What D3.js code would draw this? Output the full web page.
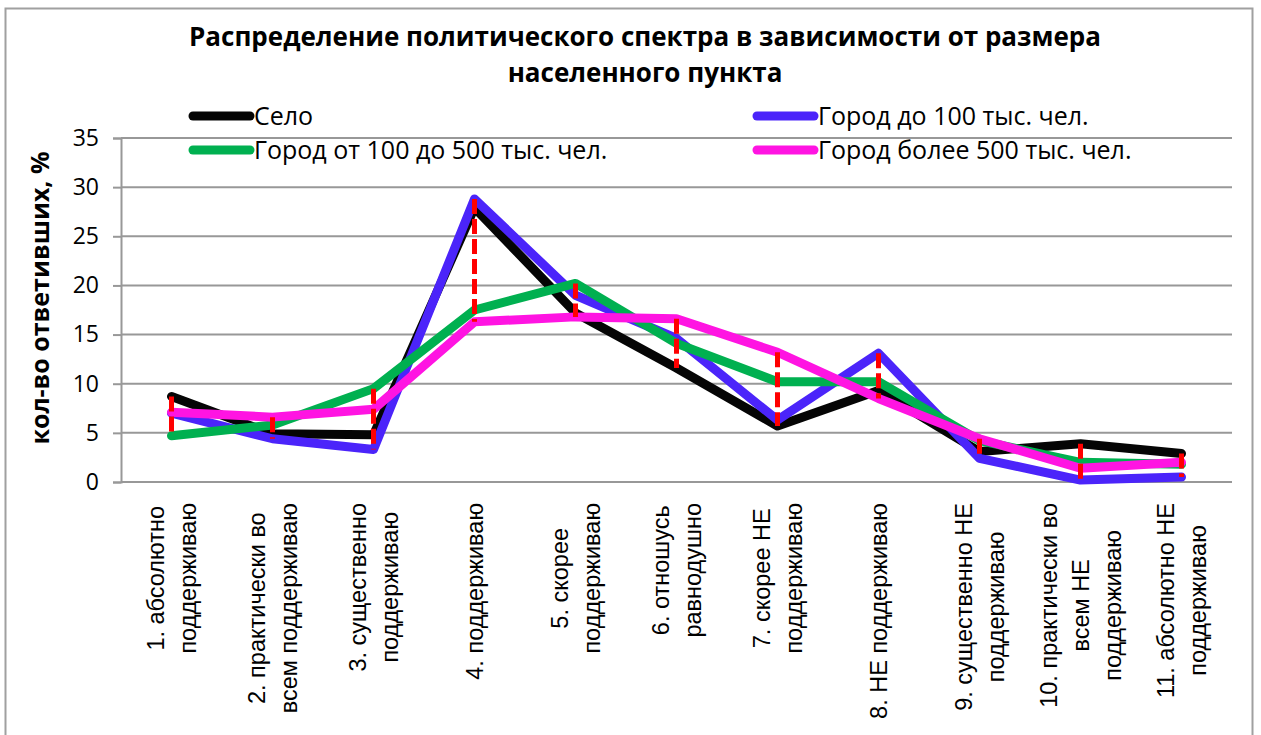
<!DOCTYPE html>
<html>
<head>
<meta charset="utf-8">
<script src="https://cdn.jsdelivr.net/npm/d3@7"></script>
<style>
  body { margin: 0; background: #fff; }
  svg { display: block; }
</style>
</head>
<body>
<div id="chart"></div>
<script>
// данные
var catLabels = [
    ["1. абсолютно", "поддерживаю"],
    ["2. практически во", "всем поддерживаю"],
    ["3. существенно", "поддерживаю"],
    ["4. поддерживаю"],
    ["5. скорее", "поддерживаю"],
    ["6. отношусь", "равнодушно"],
    ["7. скорее НЕ", "поддерживаю"],
    ["8. НЕ поддерживаю"],
    ["9. существенно НЕ", "поддерживаю"],
    ["10. практически во", "всем НЕ", "поддерживаю"],
    ["11. абсолютно НЕ", "поддерживаю"]
];
var seriesNames = ["Село", "Город до 100 тыс. чел.", "Город от 100 до 500 тыс. чел.", "Город более 500 тыс. чел."];
var selo      = [8.7, 4.9, 4.8, 27.9, 17.2, 11.6, 5.7, 9.3, 3.1, 3.9, 2.9];
var gorod100  = [7.0, 4.4, 3.3, 28.8, 19.0, 14.6, 6.3, 13.1, 2.4, 0.2, 0.5];
var gorod500  = [4.7, 5.8, 9.5, 17.5, 20.2, 14.1, 10.2, 10.2, 4.2, 2.0, 1.8];
var gorodMore = [7.1, 6.6, 7.4, 16.3, 16.8, 16.6, 13.2, 8.5, 4.4, 1.4, 2.0];
var yTicks = [0, 5, 10, 15, 20, 25, 30, 35];

var colors = ["#050505", "#4b24fa", "#00b050", "#ff14e2"];
var allSeries = [selo, gorod100, gorod500, gorodMore];

var width = 1261, height = 735;
var plot = {left: 121, right: 1232, top: 138, bottom: 482};

var svg = d3.select("#chart").append("svg")
    .attr("width", width)
    .attr("height", height);

// рамка
svg.append("rect")
    .attr("x", 5.5).attr("y", 8.5)
    .attr("width", 1247).attr("height", 760)
    .attr("fill", "none")
    .attr("stroke", "#a0a0a0")
    .attr("stroke-width", 2);

var idx = d3.range(catLabels.length);
var x = d3.scaleBand().domain(idx).range([plot.left, plot.right]);
var y = d3.scaleLinear().domain([0, 35]).range([plot.bottom, plot.top]);
var cx = function(i) { return x(i) + x.bandwidth() / 2; };

// сетка
svg.append("g")
    .selectAll("line")
    .data(yTicks)
    .enter()
    .append("line")
    .attr("x1", plot.left).attr("x2", plot.right)
    .attr("y1", d => y(d)).attr("y2", d => y(d))
    .attr("stroke", "#989898")
    .attr("stroke-width", 2);

// ось Y
var yAxis = svg.append("g")
    .attr("transform", "translate(" + plot.left + ",0)")
    .call(d3.axisLeft(y).tickValues(yTicks).tickSize(8).tickPadding(14));
yAxis.select(".domain").attr("stroke", "#989898").attr("stroke-width", 2);
yAxis.selectAll(".tick line").attr("stroke", "#989898").attr("stroke-width", 2);
yAxis.selectAll("text")
    .attr("font-family", "Open Sans")
    .attr("font-size", 23)
    .attr("fill", "#000");

svg.append("text")
    .attr("transform", "translate(49," + ((plot.top + plot.bottom) / 2 - 12) + ") rotate(-90)")
    .attr("text-anchor", "middle")
    .attr("font-family", "Open Sans")
    .attr("font-weight", "bold")
    .attr("font-size", 25)
    .text("кол-во ответивших, %");

// подписи категорий
var labelTop = 503;
var lineGap = 32;
idx.forEach(function(i) {
    var lines = catLabels[i];
    var g = svg.append("g");
    var texts = g.selectAll("text")
        .data(lines)
        .enter()
        .append("text")
        .attr("font-family", "Liberation Sans")
        .attr("font-size", 23.5)
        .attr("text-anchor", "middle")
        .text(d => d);
    var maxLen = 0;
    texts.each(function() { maxLen = Math.max(maxLen, this.getComputedTextLength()); });
    var cyBlock = labelTop + maxLen / 2;
    var n = lines.length;
    texts.attr("transform", function(d, k) {
        var lx = cx(i) + (k - (n - 1) / 2) * lineGap + 8;
        return "translate(" + lx + "," + cyBlock + ") rotate(-90)";
    });
});

// линии
var line = d3.line()
    .x((d, i) => cx(i))
    .y(d => y(d));

allSeries.forEach(function(s, k) {
    svg.append("path")
        .datum(s)
        .attr("d", line)
        .attr("fill", "none")
        .attr("stroke", colors[k])
        .attr("stroke-width", 9)
        .attr("stroke-linejoin", "round")
        .attr("stroke-linecap", "round");
});

// линии максимум-минимум
svg.append("g")
    .selectAll("line")
    .data(idx)
    .enter()
    .append("line")
    .attr("x1", i => cx(i)).attr("x2", i => cx(i))
    .attr("y1", i => y(d3.max(allSeries, s => s[i])))
    .attr("y2", i => y(d3.min(allSeries, s => s[i])))
    .attr("stroke", "#ff0000")
    .attr("stroke-width", 5)
    .attr("stroke-dasharray", "15,5");

// заголовок
var title = svg.append("text")
    .attr("text-anchor", "middle")
    .attr("font-family", "Open Sans")
    .attr("font-weight", "bold")
    .attr("font-size", 26);
title.append("tspan").attr("x", 645).attr("y", 46)
    .text("Распределение политического спектра в зависимости от размера");
title.append("tspan").attr("x", 645).attr("y", 82)
    .text("населенного пункта");

// легенда
var legendPos = [[193, 116], [757, 116], [193, 150], [757, 150]];
seriesNames.forEach(function(name, k) {
    var p = legendPos[k];
    svg.append("line")
        .attr("x1", p[0]).attr("x2", p[0] + 57)
        .attr("y1", p[1]).attr("y2", p[1])
        .attr("stroke", colors[k])
        .attr("stroke-width", 9)
        .attr("stroke-linecap", "round");
    svg.append("text")
        .attr("x", p[0] + 61).attr("y", p[1] + 9)
        .attr("font-family", "Open Sans")
        .attr("font-size", 25)
        .text(name);
});
</script>
</body>
</html>
